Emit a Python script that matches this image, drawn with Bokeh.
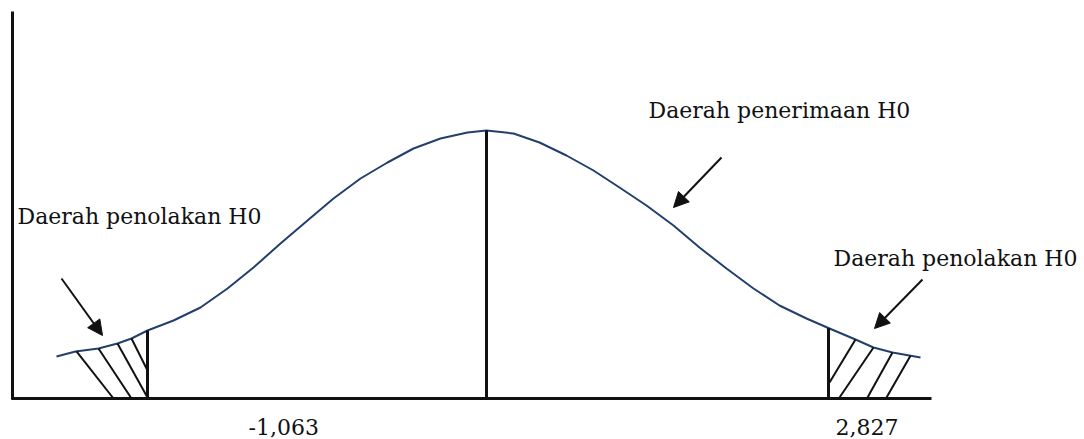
import numpy as np
from bokeh.plotting import figure
from bokeh.models import Range1d, Arrow, NormalHead
from bokeh.core.properties import value
from bokeh.embed import file_html
from bokeh.resources import INLINE

# ---- data (diagram units: x along the axis, h = height above baseline)
curve_x = [56, 75, 98, 117, 131, 147, 173, 200, 227, 253, 280, 307, 333, 360, 387, 413,
           440, 467, 486, 513, 539, 566, 593, 619, 646, 673, 699, 726, 753, 779, 806,
           829, 855, 873, 892, 920]
curve_h = [42, 47, 50, 55, 60, 68, 78, 91, 110, 131, 155, 178, 200, 220, 236, 250,
           260, 266, 268, 265, 256, 243, 228, 211, 193, 173, 151, 130, 110, 93, 80,
           70, 59, 51, 46, 41]

crit_x = [147, 828]            # critical boundaries
center_x = 486                 # mean
crit_labels = ["-1,063", "2,827"]
region_labels = ["Daerah penolakan H0", "Daerah penerimaan H0", "Daerah penolakan H0"]

# ---- layout (positions of annotations)
crit_label_x = [248, 835]
crit_label_y = [-28, -28]
region_label_x = [17, 648, 833]
region_label_y = [182, 288, 140]

left_hatch_top_x = [76, 98, 117, 131]
left_hatch_bot_x = [113, 131, 147, 147]
left_hatch_bot_y = [0, 0, 1, 28]
right_hatch_top_x = [855, 873, 892, 910]
right_hatch_bot_x = [829, 839, 867, 886]
right_hatch_bot_y = [16, 1, 1, 1]

arrows = [  # (x_start, y_start, x_end, y_end)
    (61, 120, 102, 63),
    (721, 241, 673, 191),
    (922, 119, 874, 70),
]

FONT = value("DejaVu Serif")
INK = "#111111"
CURVE = "#243F6B"

p = figure(width=1084, height=439, x_range=Range1d(0, 1084), y_range=Range1d(-41, 398),
           output_backend="svg", toolbar_location=None, min_border=0,
           x_axis_location=None, y_axis_location=None)
p.grid.visible = False
p.outline_line_color = None
p.background_fill_color = "white"
p.border_fill_color = "white"

# axes lines
p.segment(x0=[12, 11], y0=[387, 0], x1=[12, 931], y1=[-1, 0], line_width=3, line_color=INK)

# bell curve
p.line(curve_x, curve_h, line_width=2, line_color=CURVE, line_join="round")

# vertical lines at critical values and mean
vx = crit_x + [center_x]
vtop = list(np.interp(vx, curve_x, curve_h))
p.segment(x0=vx, y0=[0] * len(vx), x1=vx, y1=vtop, line_width=3, line_color=INK)

# hatching in the rejection regions
lt = list(np.interp(left_hatch_top_x, curve_x, curve_h))
p.segment(x0=left_hatch_top_x, y0=lt, x1=left_hatch_bot_x, y1=left_hatch_bot_y,
          line_width=2, line_color=INK)
rt = list(np.interp(right_hatch_top_x, curve_x, curve_h))
p.segment(x0=right_hatch_top_x, y0=rt, x1=right_hatch_bot_x, y1=right_hatch_bot_y,
          line_width=2, line_color=INK)

# arrows
for xs, ys, xe, ye in arrows:
    p.add_layout(Arrow(end=NormalHead(size=15, fill_color=INK, line_color=INK, line_width=1),
                       x_start=xs, y_start=ys, x_end=xe, y_end=ye,
                       line_width=2, line_color=INK))

# texts
p.text(x=region_label_x, y=region_label_y, text=region_labels, text_font=FONT,
       text_font_size="22px", text_color=INK, text_align="left", text_baseline="alphabetic")
p.text(x=crit_label_x, y=crit_label_y, text=crit_labels, text_font=FONT,
       text_font_size="22px", text_color=INK, text_align="left", text_baseline="alphabetic")

open("out.html", "w").write(file_html(p, INLINE))
